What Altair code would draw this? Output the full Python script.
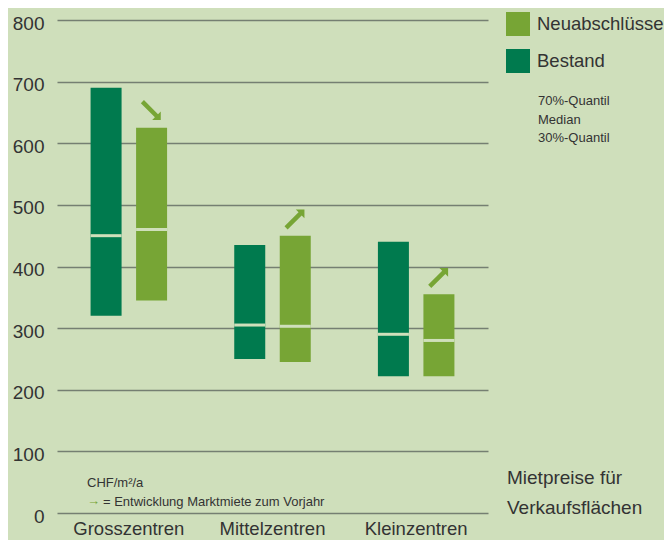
import altair as alt
import pandas as pd

# ---- data ----
categories = ["Grosszentren", "Mittelzentren", "Kleinzentren"]
series_order = ["Bestand", "Neuabschlüsse"]
legend_order = ["Neuabschlüsse", "Bestand"]

q30_bestand = [320, 250, 222]
median_bestand = [450, 305, 290]
q70_bestand = [690, 435, 440]

q30_neu = [345, 245, 222]
median_neu = [460, 303, 280]
q70_neu = [625, 450, 355]

trend_neu = ["down", "up", "up"]  # Entwicklung Marktmiete zum Vorjahr

y_ticks = [0, 100, 200, 300, 400, 500, 600, 700, 800]

# ---- style ----
BG = "#cfdfbb"
C_BEST = "#007a4e"
C_NEU = "#77a535"
GRID = "#757f72"
TXT = "#333333"
FONT = "Liberation Sans"
ARROW = "M -0.17 1 L -0.17 -0.53 L -0.47 -0.53 L 0 -1 L 0.47 -0.53 L 0.17 -0.53 L 0.17 1 Z"

rows = []
for i, c in enumerate(categories):
    rows.append(dict(Zentrum=c, Serie="Bestand", q30=q30_bestand[i],
                     med=median_bestand[i], q70=q70_bestand[i]))
    rows.append(dict(Zentrum=c, Serie="Neuabschlüsse", q30=q30_neu[i],
                     med=median_neu[i], q70=q70_neu[i]))
df = pd.DataFrame(rows)

arrows = pd.DataFrame({
    "Zentrum": categories,
    "Serie": ["Neuabschlüsse"] * len(categories),
    "top": q70_neu,
    "angle": [135 if t == "down" else 45 for t in trend_neu],
})

x_enc = alt.X(
    "Zentrum:N", sort=categories,
    scale=alt.Scale(range=[-6, 425], paddingInner=0, paddingOuter=0),
    axis=alt.Axis(title=None, labelAngle=0, ticks=False, domain=False, grid=False,
                  labelFontSize=18.5, labelFont=FONT, labelColor=TXT, labelPadding=6),
)
xo_enc = alt.XOffset(
    "Serie:N", sort=series_order,
    scale=alt.Scale(domain=series_order, paddingInner=0.3187, paddingOuter=0.738),
)
y_scale = alt.Scale(domain=[0, 800], nice=False, zero=True)

bars = alt.Chart(df).mark_bar().encode(
    x=x_enc,
    xOffset=xo_enc,
    y=alt.Y("q30:Q", scale=y_scale,
            axis=alt.Axis(title=None, values=y_ticks, ticks=False, domain=False, grid=True,
                          gridColor=GRID, gridWidth=1.3, labelFontSize=19, labelFont=FONT,
                          labelColor=TXT, labelPadding=19, labelOffset=3)),
    y2="q70:Q",
    color=alt.Color(
        "Serie:N",
        scale=alt.Scale(domain=legend_order, range=[C_NEU, C_BEST]),
        legend=alt.Legend(title=None, orient="none", legendX=443, legendY=-8,
                          direction="vertical", symbolType="square", symbolSize=576,
                          symbolStrokeWidth=0, symbolOpacity=1, labelFontSize=18.5,
                          labelFont=FONT, labelColor=TXT, labelOffset=7, rowPadding=13,
                          padding=0),
    ),
)

medians = alt.Chart(df).mark_tick(thickness=3, size=31, color=BG, opacity=1).encode(
    x=x_enc, xOffset=xo_enc, y=alt.Y("med:Q", scale=y_scale),
)

trend = alt.Chart(arrows).mark_point(
    shape=ARROW, filled=True, size=676, color=C_NEU, opacity=1, strokeWidth=0, yOffset=-17
).encode(
    x=x_enc, xOffset=xo_enc, y=alt.Y("top:Q", scale=y_scale),
    angle=alt.Angle("angle:Q", scale=None),
)

one = pd.DataFrame({"a": [0]})


def label(text, x, y, size, color=TXT):
    return alt.Chart(one).mark_text(
        align="left", baseline="middle", font=FONT, fontSize=size, color=color
    ).encode(x=alt.value(x), y=alt.value(y), text=alt.value(text))


texts = [
    label("70%-Quantil", 475, 81, 13),
    label("Median", 475, 100, 13),
    label("30%-Quantil", 475, 118, 13),
    label("Mietpreise für", 444, 458, 19),
    label("Verkaufsflächen", 444, 488, 19),
    label("CHF/m²/a", 24, 463, 13),
    label("→", 24, 481, 13, C_NEU),
    label("= Entwicklung Marktmiete zum Vorjahr", 40, 482, 13),
]

chart = alt.layer(bars, medians, trend, *texts).properties(
    width=424, height=493, background=BG,
    padding={"left": 55, "top": 12, "right": 177, "bottom": 27},
    autosize=alt.AutoSizeParams(type="none"),
).configure_view(stroke=None)

chart.save("out.html", embed_options={"renderer": "svg", "actions": False})
